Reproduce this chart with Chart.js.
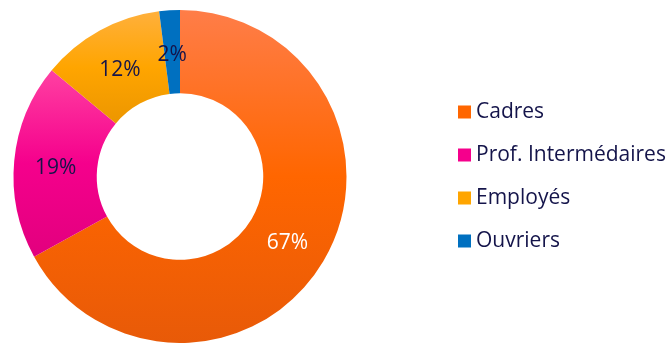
<!DOCTYPE html>
<html><head><meta charset="utf-8">
<script src="https://cdn.jsdelivr.net/npm/chart.js@4/dist/chart.umd.min.js"></script>
<style>html,body{margin:0;padding:0;background:#fff}#wrap{width:672px;height:343px;position:relative}</style>
</head><body><div id="wrap"><canvas id="c"></canvas></div>
<script>
const categories = ['Cadres', 'Prof. Intermédaires', 'Employés', 'Ouvriers'];
const values = [67, 19, 12, 2];
const baseColors = ['#FF6600', '#F5008C', '#FFA500', '#0070C0'];
const lightColors = ['#FF7D48', '#FF40A2', '#FFB03C', '#0070C0'];
const darkColors = ['#E85A08', '#E2007E', '#EC9600', '#0070C0'];
const labelColors = ['#FFFFFF', '#14144A', '#14144A', '#14144A'];
const TEXT = '#14144A';
const FONT = '"Open Sans"';

function sliceGradient(ctx) {
  const chart = ctx.chart, area = chart.chartArea, i = ctx.dataIndex;
  if (!area || i === undefined) return baseColors[i] || baseColors[0];
  const ctrl = chart.getDatasetMeta(0).controller;
  const ro = ctrl.outerRadius, ri = ctrl.innerRadius;
  if (!ro) return baseColors[i];
  const cy = (area.top + area.bottom) / 2;
  const vals = chart.data.datasets[0].data;
  const total = vals.reduce((a, b) => a + b, 0);
  let a0 = -Math.PI / 2;
  for (let k = 0; k < i; k++) a0 += vals[k] / total * 2 * Math.PI;
  const a1 = a0 + vals[i] / total * 2 * Math.PI;
  let ymin = Infinity, ymax = -Infinity;
  for (let s = 0; s <= 90; s++) {
    const a = a0 + (a1 - a0) * s / 90;
    for (const r of [ri, ro]) {
      const y = cy + r * Math.sin(a);
      ymin = Math.min(ymin, y); ymax = Math.max(ymax, y);
    }
  }
  const g = chart.ctx.createLinearGradient(0, ymin, 0, ymax);
  g.addColorStop(0, lightColors[i]);
  g.addColorStop(0.5, baseColors[i]);
  g.addColorStop(1, darkColors[i]);
  return g;
}

const legendPlacer = {
  id: 'legendPlacer',
  beforeLayout(chart) {
    const lg = chart.legend;
    if (lg && !lg._patched) {
      const fit0 = lg.fit;
      lg.fit = function () { fit0.call(this); this.width = 312; };
      lg._patched = true;
    }
  },
  afterLayout(chart) {
    const lg = chart.legend;
    lg.left = 441.5;
    lg.width = lg.right - lg.left;
  }
};

const sliceLabels = {
  id: 'sliceLabels',
  afterDatasetsDraw(chart) {
    const c = chart.ctx;
    const meta = chart.getDatasetMeta(0);
    const vals = chart.data.datasets[0].data;
    const total = vals.reduce((a, b) => a + b, 0);
    c.save();
    c.font = '21px ' + FONT;
    c.textAlign = 'center';
    c.textBaseline = 'middle';
    meta.data.forEach((arc, i) => {
      const p = arc.tooltipPosition();
      c.fillStyle = labelColors[i];
      c.fillText(Math.round(vals[i] / total * 100) + '%', p.x, p.y + 3);
    });
    c.restore();
  }
};

new Chart(document.getElementById('c'), {
  type: 'doughnut',
  data: {
    labels: categories,
    datasets: [{
      data: values,
      backgroundColor: sliceGradient,
      borderWidth: 0,
      hoverOffset: 0
    }]
  },
  options: {
    responsive: true,
    maintainAspectRatio: false,
    animation: false,
    cutout: '50%',
    layout: { padding: { top: 10, bottom: 0, left: 0, right: 0 } },
    plugins: {
      tooltip: { enabled: false },
      legend: {
        position: 'right',
        labels: {
          font: { family: FONT, size: 21 },
          color: TEXT,
          usePointStyle: true,
          pointStyle: 'rect',
          boxWidth: 2,
          boxHeight: 13,
          padding: 22,
          generateLabels(chart) {
            const items = Chart.overrides.doughnut.plugins.legend.labels.generateLabels(chart);
            items.forEach((it, i) => { it.fillStyle = baseColors[i]; it.lineWidth = 0; it.strokeStyle = 'rgba(0,0,0,0)'; });
            return items;
          }
        }
      }
    }
  },
  plugins: [legendPlacer, sliceLabels]
});
</script>
</body></html>
